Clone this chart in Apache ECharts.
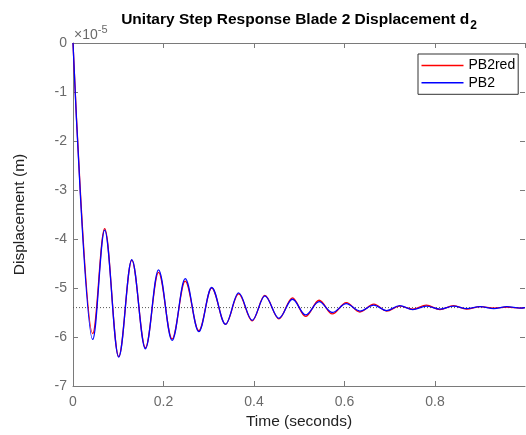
<!DOCTYPE html>
<html><head><meta charset="utf-8">
<script src="https://cdn.jsdelivr.net/npm/echarts@6/dist/echarts.min.js"></script>
<style>html,body{margin:0;padding:0;background:#fff}#c{width:526px;height:435px}</style>
</head><body><div id="c"></div>
<script>
// Time samples (s) at extrema of the step response
const time = [0, 0.0435, 0.070, 0.101, 0.130, 0.160, 0.189, 0.219, 0.248, 0.278, 0.3065, 0.337, 0.366, 0.396, 0.424, 0.455, 0.485, 0.514, 0.544, 0.573, 0.604, 0.634, 0.665, 0.693, 0.722, 0.751, 0.781, 0.811, 0.841, 0.870, 0.900, 0.930, 0.959, 0.989, 0.999];
// Displacement in units of 1e-5 m
const pb2red = [0, -5.93, -3.79, -6.40, -4.43, -6.22, -4.68, -6.04, -4.86, -5.87, -5.00, -5.74, -5.12, -5.67, -5.15, -5.63, -5.20, -5.58, -5.25, -5.53, -5.30, -5.49, -5.33, -5.47, -5.37, -5.43, -5.35, -5.44, -5.36, -5.43, -5.38, -5.41, -5.39, -5.41, -5.40];
const pb2 = [0, -6.05, -3.82, -6.41, -4.42, -6.24, -4.63, -6.07, -4.81, -5.89, -4.99, -5.74, -5.10, -5.66, -5.16, -5.62, -5.23, -5.55, -5.28, -5.50, -5.32, -5.47, -5.35, -5.46, -5.36, -5.44, -5.37, -5.43, -5.37, -5.42, -5.38, -5.42, -5.38, -5.41, -5.40];
const steadyState = -5.4;
const xMin = 0, xMax = 0.999, xInterval = 0.2;
const yMin = -7, yMax = 0, yInterval = 1;
const seriesNames = ['PB2red', 'PB2'];
const seriesColors = ['#ff0000', '#0000ff'];
const titleText = 'Unitary Step Response Blade 2 Displacement d';
const titleSub = '2';

const FONT = "'Liberation Sans', Arial, Helvetica, sans-serif";
const axisColor = '#7a7a7a';
const labelColor = '#6a6a6a';

const chart = echarts.init(document.getElementById('c'), null, {renderer: 'canvas'});
const gridL = 73, gridT = 43, gridW = 452, gridH = 347;

function axisBase(pos, isX) {
  return {
    type: 'value',
    position: pos,
    min: isX ? xMin : yMin,
    max: isX ? xMax : yMax,
    interval: isX ? xInterval : yInterval,
    axisLine: {show: true, onZero: false, lineStyle: {color: axisColor, width: 1}},
    axisTick: {show: true, inside: true, length: 5, lineStyle: {color: axisColor}},
    splitLine: {show: false},
    axisLabel: {show: false}
  };
}

const xBottom = Object.assign(axisBase('bottom', true), {
  axisLabel: {show: true, color: labelColor, fontSize: 14, fontFamily: FONT, margin: 9, showMaxLabel: false},
  name: 'Time (seconds)', nameLocation: 'middle', nameGap: 28,
  nameTextStyle: {color: '#222', fontSize: 15.5, fontFamily: FONT}
});
const xTop = axisBase('top', true);
const yLeft = Object.assign(axisBase('left', false), {
  axisLabel: {show: true, color: labelColor, fontSize: 14, fontFamily: FONT, margin: 6},
  name: 'Displacement (m)', nameLocation: 'middle', nameGap: 45,
  nameTextStyle: {color: '#222', fontSize: 15.5, fontFamily: FONT}
});
const yRight = axisBase('right', false);
yRight.axisLine.show = false;

const option = {
  animation: false,
  backgroundColor: '#fff',
  grid: {left: gridL, top: gridT, width: gridW, height: gridH, containLabel: false},
  xAxis: [xBottom, xTop],
  yAxis: [yLeft, yRight],
  legend: {
    orient: 'vertical', left: 418, top: 54,
    data: seriesNames.map((n, i) => ({name: n, icon: 'rect', itemStyle: {color: seriesColors[i]}})),
    itemWidth: 42, itemHeight: 1.6, itemGap: 2.3,
    padding: [4, 3, 4, 3.5],
    borderColor: '#333', borderWidth: 1, backgroundColor: '#fff',
    textStyle: {color: '#000', fontSize: 14, fontFamily: FONT, lineHeight: 15}
  },
  graphic: [
    {type: 'text', x: 299, y: 20, z: 10,
     style: {text: titleText + '{s|' + titleSub + '}', align: 'center', verticalAlign: 'middle',
       font: 'bold 15.5px ' + FONT, fill: '#000',
       rich: {s: {fontSize: 12, fontWeight: 'bold', fontFamily: FONT, fill: '#000', padding: [12, 0, 0, 1]}}}},
    {type: 'text', x: 74, y: 35, z: 10,
     style: {text: '×10{b|-5}', align: 'left', verticalAlign: 'middle',
       font: '14px ' + FONT, fill: labelColor,
       rich: {b: {fontSize: 11, fontFamily: FONT, fill: labelColor, padding: [0, 0, 10, 0]}}}}
  ],
  series: [
    {name: 'steady', type: 'line', xAxisIndex: 0, yAxisIndex: 0, silent: true, symbol: 'none',
     data: [[xMin, steadyState], [xMax, steadyState]],
     lineStyle: {color: '#555', width: 1, type: [1, 2]}, z: 1},
    {name: seriesNames[0], type: 'line', xAxisIndex: 0, yAxisIndex: 0, symbol: 'none',
     smooth: 0.36, smoothMonotone: 'x',
     data: time.map((t, i) => [t, pb2red[i]]),
     lineStyle: {color: seriesColors[0], width: 1.3}, itemStyle: {color: seriesColors[0]}, z: 2},
    {name: seriesNames[1], type: 'line', xAxisIndex: 0, yAxisIndex: 0, symbol: 'none',
     smooth: 0.36, smoothMonotone: 'x',
     data: time.map((t, i) => [t, pb2[i]]),
     lineStyle: {color: seriesColors[1], width: 1.3}, itemStyle: {color: seriesColors[1]}, z: 3}
  ]
};
chart.setOption(option);
</script></body></html>
